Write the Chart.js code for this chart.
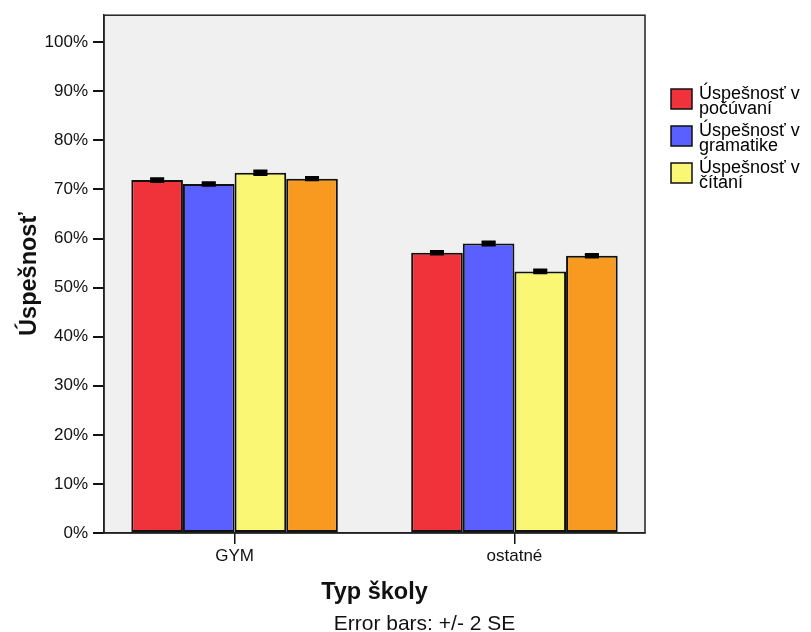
<!DOCTYPE html>
<html>
<head>
<meta charset="utf-8">
<script src="https://cdn.jsdelivr.net/npm/chart.js@4"></script>
<style>
html,body{margin:0;padding:0;background:#fff;}
#wrap{width:811px;height:632px;}
</style>
</head>
<body>
<div id="wrap"><canvas id="c" width="811" height="632"></canvas></div>
<script>
// ---- data ----
const categories = ["GYM", "ostatné"];
const seriesNames = [
  ["Úspešnosť v", "počúvaní"],
  ["Úspešnosť v", "gramatike"],
  ["Úspešnosť v", "čítaní"],
  ["Celková", "úspešnosť"]
];
const listening = [71.9, 57.1];
const grammar   = [71.1, 59.0];
const reading   = [73.4, 53.3];
const overall   = [72.2, 56.5];
const listeningErr = [0.4, 0.35];
const grammarErr   = [0.35, 0.4];
const readingErr   = [0.45, 0.4];
const overallErr   = [0.35, 0.35];
const yTicks = [0, 10, 20, 30, 40, 50, 60, 70, 80, 90, 100];
const inLegend = [true, true, true, false];
const xTitle = "Typ školy";
const yTitle = "Úspešnosť";
const footnote = "Error bars: +/- 2 SE";

const colors = ["#F0333A", "#5A5FFF", "#FAF774", "#F89A1F"];
const values = [listening, grammar, reading, overall];
const errors = [listeningErr, grammarErr, readingErr, overallErr];

const FONT = "'Liberation Sans', Arial, sans-serif";

const datasets = values.map((vals, i) => ({
  label: seriesNames[i].join(" "),
  data: vals.map((v, j) => ({x: j, y: v})),
  errs: errors[i],
  backgroundColor: colors[i],
  borderColor: "#111",
  borderWidth: 2,
  borderSkipped: false,
  categoryPercentage: 0.738,
  barPercentage: 1.0,
  inLegend: inLegend[i],
  legendLines: seriesNames[i]
}));

const plotBg = {
  id: "plotBg",
  beforeDraw(chart) {
    const {ctx, chartArea: a} = chart;
    ctx.save();
    ctx.fillStyle = "#fff";
    ctx.fillRect(0, 0, chart.width, chart.height);
    ctx.fillStyle = "#F0F0F0";
    ctx.fillRect(a.left, a.top, a.right - a.left, a.bottom - a.top);
    ctx.restore();
  },
  afterDraw(chart) {
    const {ctx, chartArea: a} = chart;
    ctx.save();
    ctx.strokeStyle = "#222";
    ctx.lineWidth = 1.5;
    ctx.strokeRect(a.left, a.top, a.right - a.left, a.bottom - a.top);
    ctx.fillStyle = "#111";
    ctx.font = "21px " + FONT;
    ctx.textAlign = "center";
    ctx.textBaseline = "alphabetic";
    ctx.fillText(footnote, 424.5, 630);
    ctx.restore();
  }
};

const errorBars = {
  id: "errorBars",
  afterDatasetsDraw(chart) {
    const {ctx} = chart;
    const ys = chart.scales.y;
    ctx.save();
    ctx.strokeStyle = "#000";
    chart.data.datasets.forEach((ds, i) => {
      const meta = chart.getDatasetMeta(i);
      meta.data.forEach((el, j) => {
        const v = ds.data[j].y, e = ds.errs[j];
        const yt = ys.getPixelForValue(v + e);
        const yb = ys.getPixelForValue(v - e);
        const half = 7;
        ctx.lineWidth = 2;
        ctx.beginPath();
        ctx.moveTo(el.x - half, yt); ctx.lineTo(el.x + half, yt);
        ctx.moveTo(el.x - half, yb); ctx.lineTo(el.x + half, yb);
        ctx.moveTo(el.x, yt); ctx.lineTo(el.x, yb);
        ctx.stroke();
        ctx.fillStyle = "#000";
        ctx.fillRect(el.x - half, yt, half * 2, yb - yt);
      });
    });
    ctx.restore();
  }
};

const sideLegend = {
  id: "sideLegend",
  afterDraw(chart) {
    const {ctx} = chart;
    ctx.save();
    let k = 0;
    chart.data.datasets.forEach((ds) => {
      if (!ds.inLegend) return;
      const top = 89 + k * 37;
      ctx.fillStyle = ds.backgroundColor;
      ctx.fillRect(671, top, 21, 20);
      ctx.strokeStyle = "#111";
      ctx.lineWidth = 1.5;
      ctx.strokeRect(671, top, 21, 20);
      ctx.fillStyle = "#000";
      ctx.font = "18px " + FONT;
      ctx.textAlign = "left";
      ctx.textBaseline = "alphabetic";
      ds.legendLines.forEach((line, li) => {
        ctx.fillText(line, 699, top + 9.5 + li * 15);
      });
      k++;
    });
    ctx.restore();
  }
};

new Chart(document.getElementById("c"), {
  type: "bar",
  data: { datasets },
  plugins: [plotBg, errorBars, sideLegend],
  options: {
    responsive: false,
    animation: false,
    events: [],
    layout: { padding: { left: 0, top: 15, right: 166, bottom: 0 } },
    plugins: {
      legend: { display: false },
      tooltip: { enabled: false },
      title: { display: false }
    },
    scales: {
      x: {
        type: "linear",
        offset: false,
        min: -0.4666,
        max: 1.4666,
        afterBuildTicks(s) { s.ticks = categories.map((c, i) => ({ value: i })); },
        afterFit(s) { s.height = 632 - 533; },
        ticks: {
          callback: (v) => categories[v],
          color: "#111",
          font: { family: FONT, size: 17 },
          padding: 2,
          maxRotation: 0,
          autoSkip: false
        },
        grid: { drawOnChartArea: false, offset: false, tickLength: 11, color: "#111", lineWidth: 1.5 },
        border: { display: true, color: "#222", width: 1.5 },
        title: {
          display: true,
          text: xTitle,
          color: "#111",
          font: { family: FONT, size: 23.5, weight: "bold", lineHeight: 1.2 },
          padding: { top: 0, bottom: 25.7 }
        }
      },
      y: {
        min: 0,
        max: 105.5,
        afterBuildTicks(s) { s.ticks = yTicks.map(v => ({ value: v })); },
        afterFit(s) { s.width = 104; },
        ticks: {
          callback: (v) => v + "%",
          color: "#111",
          font: { family: FONT, size: 17 },
          padding: 5,
          includeBounds: false
        },
        grid: { drawOnChartArea: false, tickLength: 11, color: "#111", lineWidth: 2 },
        border: { display: true, color: "#222", width: 1.5 },
        title: {
          display: true,
          text: yTitle,
          color: "#111",
          font: { family: FONT, size: 23.5, weight: "bold", lineHeight: 1.2 },
          padding: { top: 15, bottom: 0 }
        }
      }
    }
  }
});
</script>
</body>
</html>
